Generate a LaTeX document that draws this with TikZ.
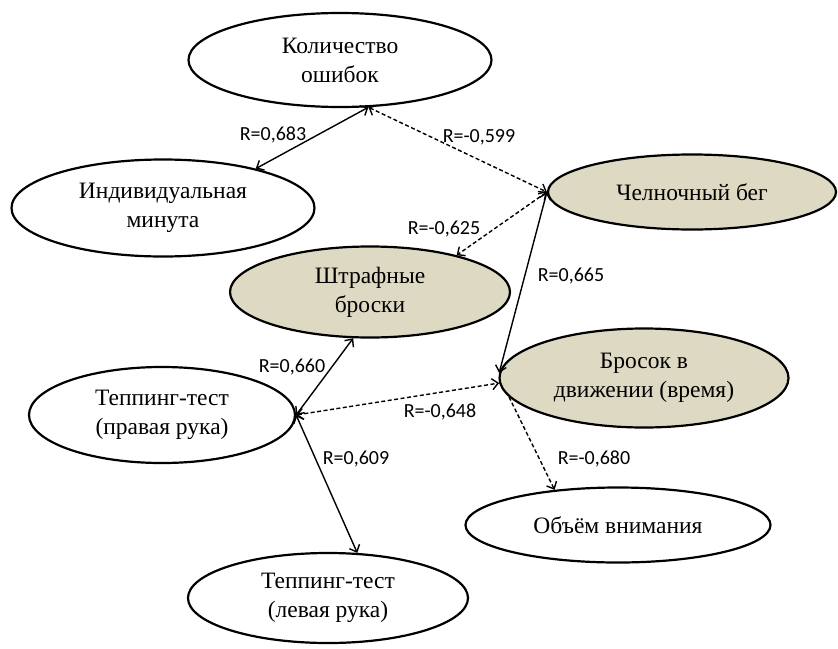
\documentclass[tikz,border=0pt]{standalone}
\usepackage{fontspec}
\setmainfont{Liberation Serif}
\newfontfamily\lblfont{Carlito}
\usetikzlibrary{shapes.geometric,arrows.meta}
\definecolor{beige}{RGB}{221,217,195}

\begin{document}
\begin{tikzpicture}[x=1pt,y=-1pt]
    \tikzstyle{blob} = [draw, ellipse, line width=2.2pt, inner sep=0pt, align=center,
        font=\fontsize{23.5}{29}\selectfont]
    \tikzstyle{grey} = [blob, fill=beige]
    \tikzstyle{ann} = [inner sep=0pt, font=\lblfont\fontsize{20}{22}\selectfont]
    \tikzstyle{link} = [line width=1.4pt,
        {Straight Barb[length=6pt,width=11pt]}-{Straight Barb[length=6pt,width=11pt]}]
    \tikzstyle{neg} = [link, dash pattern=on 4pt off 2.5pt]
    \tikzstyle{oneway} = [line width=1.4pt, dash pattern=on 4pt off 2.5pt,
        -{Straight Barb[length=6pt,width=11pt]}]

    \useasboundingbox (0,0) rectangle (838,648);

    \node[blob, minimum width=303pt, minimum height=94pt] (kol) at (340,60) {Количество\\ошибок};
    \node[blob, minimum width=303pt, minimum height=97pt] (ind) at (163,208) {Индивидуальная\\минута};
    \node[grey, minimum width=288pt, minimum height=75pt] (chel) at (692,192) {Челночный бег};
    \node[grey, minimum width=280pt, minimum height=91pt] (shtr) at (370,292) {Штрафные\\броски};
    \node[grey, minimum width=289pt, minimum height=99pt] (bros) at (644,378) {Бросок в\\движении (время)};
    \node[blob, minimum width=266pt, minimum height=96pt] (tapR) at (162,415) {Теппинг-тест\\(правая рука)};
    \node[blob, minimum width=305pt, minimum height=75pt] (ob) at (618,525) {Объём внимания};
    \node[blob, minimum width=280pt, minimum height=90pt] (tapL) at (328,598) {Теппинг-тест\\(левая рука)};

    % correlations
    \draw[link] (kol.-59) -- (ind.23);
    \draw[neg] (kol.-59) -- (chel.west);
    \draw[neg] (chel.west) -- (shtr.23);
    \draw[link] (bros.178) -- (chel.west);
    \draw[link] (tapR.east) -- (shtr.-110);
    \draw[neg] (tapR.east) -- (bros.182);
    \draw[link] (tapR.east) -- (tapL.57);
    \draw[oneway] (bros.188) -- (ob.151);

    \node[ann] (r683) at (273,135) {R=0,683};
    \node[ann] (r599) at (479,137) {R=-0,599};
    \node[ann] (r625) at (444,229) {R=-0,625};
    \node[ann] (r665) at (571,276) {R=0,665};
    \node[ann] (r660) at (292,367) {R=0,660};
    \node[ann] (r648) at (440,412) {R=-0,648};
    \node[ann] (r609) at (356,459) {R=0,609};
    \node[ann] (r680) at (594,459) {R=-0,680};
\end{tikzpicture}
\end{document}
